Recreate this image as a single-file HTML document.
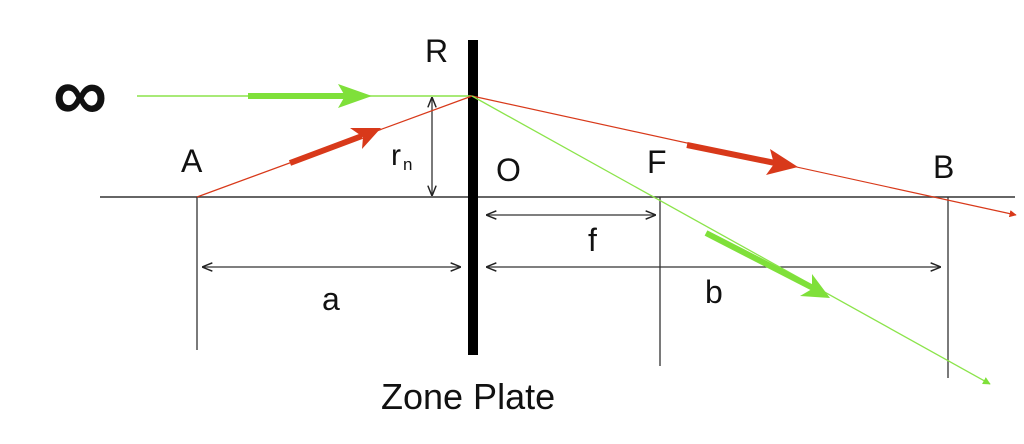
<!DOCTYPE html>
<html><head><style>body{margin:0;background:#fff}svg{display:block}text{font-family:"Liberation Sans",sans-serif;fill:#111}</style></head><body>
<svg width="1024" height="444" viewBox="0 0 1024 444">
<defs>
<marker id="k" viewBox="0 0 10 10" refX="9" refY="5" markerWidth="8" markerHeight="8" orient="auto-start-reverse"><path d="M0,1 L10,5 L0,9" fill="none" stroke="#222" stroke-width="1.4"/></marker>
<marker id="r" viewBox="0 0 10 10" refX="9" refY="5" markerWidth="6" markerHeight="6" orient="auto"><path d="M0,0 L10,5 L0,10z" fill="#d8391a"/></marker>
<marker id="g" viewBox="0 0 10 10" refX="9" refY="5" markerWidth="6" markerHeight="6" orient="auto"><path d="M0,0 L10,5 L0,10z" fill="#7fe03a"/></marker>
</defs>
<line x1="100" y1="197" x2="1015" y2="197" stroke="#333" stroke-width="1.5"/>
<g stroke="#333" stroke-width="1.3">
<line x1="197" y1="197" x2="197" y2="350"/>
<line x1="660" y1="197" x2="660" y2="366"/>
<line x1="948" y1="197" x2="948" y2="378"/>
<line x1="432" y1="98" x2="432" y2="195" marker-start="url(#k)" marker-end="url(#k)"/>
<line x1="203" y1="267" x2="460" y2="267" marker-start="url(#k)" marker-end="url(#k)"/>
<line x1="487" y1="215" x2="655" y2="215" marker-start="url(#k)" marker-end="url(#k)"/>
<line x1="487" y1="267" x2="940" y2="267" marker-start="url(#k)" marker-end="url(#k)"/>
</g>
<rect x="468" y="40" width="10" height="315" fill="#000"/>
<line x1="137" y1="96" x2="472" y2="96" stroke="#8be44a" stroke-width="1.5"/>
<line x1="248" y1="96" x2="350" y2="96" stroke="#7fe03a" stroke-width="6"/>
<path d="M338,84 L372,96 L338,108 L345,96z" fill="#7fe03a"/>
<line x1="197" y1="197" x2="472" y2="96" stroke="#d8391a" stroke-width="1.2"/>
<line x1="290" y1="163" x2="362" y2="136" stroke="#d8391a" stroke-width="6"/>
<path d="M350,128 L381,128 L362,149 L363,137z" fill="#d8391a"/>
<line x1="472" y1="96" x2="1016" y2="215" stroke="#d8391a" stroke-width="1.2" marker-end="url(#r)"/>
<line x1="687" y1="145" x2="780" y2="164" stroke="#d8391a" stroke-width="6"/>
<path d="M770,149 L798,167 L766,175 L774,164z" fill="#d8391a"/>
<line x1="472" y1="96" x2="990" y2="384" stroke="#8be44a" stroke-width="1.3" marker-end="url(#g)"/>
<line x1="706" y1="233" x2="815" y2="289" stroke="#7fe03a" stroke-width="6"/>
<path d="M812,274 L830,298 L800,296 L812,289z" fill="#7fe03a"/>
<text x="53" y="120" font-size="76" font-weight="bold">∞</text>
<text x="425" y="62" font-size="32">R</text>
<text x="181" y="172" font-size="32">A</text>
<text x="391" y="165" font-size="30">r</text><text x="403" y="170" font-size="17">n</text>
<text x="496" y="181" font-size="32">O</text>
<text x="647" y="173" font-size="32">F</text>
<text x="933" y="178" font-size="32">B</text>
<text x="588" y="251" font-size="32">f</text>
<text x="322" y="310" font-size="32">a</text>
<text x="705" y="303" font-size="32">b</text>
<text x="381" y="409" font-size="36">Zone Plate</text>
</svg>
</body></html>
